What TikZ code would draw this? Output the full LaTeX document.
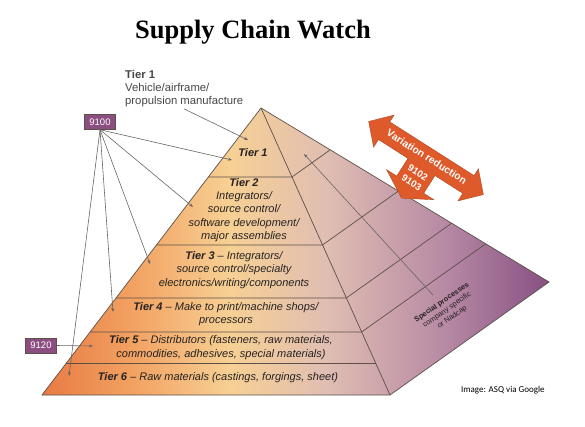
\documentclass[tikz,border=0pt]{standalone}
\usepackage{fontspec}
\setmainfont{Liberation Serif}
\setsansfont{Liberation Sans}
\newfontfamily\creditfont{Carlito}
\usetikzlibrary{arrows.meta}

\definecolor{pyrorange}{RGB}{232,122,68}
\definecolor{pyrtan}{RGB}{242,162,98}
\definecolor{pyrpeach}{RGB}{247,208,148}
\definecolor{pyrrose}{RGB}{224,190,178}
\definecolor{pyrmauve}{RGB}{182,136,164}
\definecolor{pyrpurple}{RGB}{134,80,130}
\definecolor{boxpurple}{RGB}{140,78,128}
\definecolor{arroworange}{RGB}{222,90,42}
\definecolor{edgegray}{RGB}{92,80,74}
\definecolor{leadgray}{RGB}{105,100,100}
\definecolor{tierink}{RGB}{38,34,34}
\definecolor{labelgray}{RGB}{70,70,72}

\pgfdeclarehorizontalshading{pyramidshade}{100bp}{color(0bp)=(pyrorange); color(25bp)=(pyrorange); color(34bp)=(pyrtan); color(43.5bp)=(pyrpeach); color(53bp)=(pyrrose); color(65bp)=(pyrmauve); color(75bp)=(pyrpurple); color(100bp)=(pyrpurple)}

\begin{document}
\begin{tikzpicture}[x=1pt, y=-1pt,
  tiertext/.style={font=\sffamily\itshape\fontsize{11}{13.4}\selectfont, text=tierink, align=center, inner sep=0pt},
  stdbox/.style={draw=edgegray, fill=boxpurple, text=white, font=\sffamily\fontsize{9.5}{10}\selectfont, inner sep=0pt, minimum width=31pt, minimum height=15pt},
  leader/.style={draw=leadgray, line width=0.6pt, -{Stealth[length=4pt,width=3pt]}},
  facet/.style={draw=edgegray, line width=0.7pt}]
  \useasboundingbox (0,0) rectangle (585,426);

  % Title
  \node (title) at (253,32) {\fontsize{26.5}{30}\selectfont\bfseries Supply Chain Watch};

  % Pyramid body
  \coordinate (apex) at (261,108);
  \coordinate (botleft) at (42,395);
  \coordinate (botright) at (390,395);
  \coordinate (rightcorner) at (549,282);
  \shade[shading=pyramidshade] (apex) -- (botleft) -- (botright) -- (rightcorner) -- cycle;
  \draw[facet] (apex) -- (botleft) -- (botright) -- (rightcorner) -- cycle;
  \draw[facet] (apex) -- (botright);

  % Tier borders on the front face, carried on along the side face
  \draw[facet] (208.4,177) -- (292,177) -- (330.2,149.8);
  \draw[facet] (156.5,245) -- (322.5,245) -- (398.4,191);
  \draw[facet] (116,298) -- (346.3,298) -- (451.6,223.2);
  \draw[facet] (90.1,332) -- (361.6,332) -- (485.7,243.8);
  \draw[facet] (66.4,363) -- (375.5,363);

  % Tier texts
  \node[tiertext] (tier1) at (253,153) {\textbf{Tier 1}};
  \node[tiertext] (tier2) at (244,210) {\textbf{Tier 2}\\Integrators/\\source control/\\software development/\\major assemblies};
  \node[tiertext] (tier3) at (234,270) {\textbf{Tier 3} -- Integrators/\\source control/specialty\\electronics/writing/components};
  \node[tiertext] (tier4) at (226,314) {\textbf{Tier 4} -- Make to print/machine shops/\\processors};
  \node[tiertext] (tier5) at (221,347.5) {\textbf{Tier 5} -- Distributors (fasteners, raw materials,\\commodities, adhesives, special materials)};
  \node[tiertext] (tier6) at (218,378) {\textbf{Tier 6} -- Raw materials (castings, forgings, sheet)};

  % Tier 1 note
  \node[anchor=north west, align=left, inner sep=0pt, text=labelgray, font=\sffamily\fontsize{11.3}{13}\selectfont] (tieronenote) at (125,70) {\textbf{Tier 1}\\Vehicle/airframe/\\propulsion manufacture};
  \coordinate (tieronetip) at (248,140);
  \draw[leader] (tieronenote.south) ++(0,2) -- (tieronetip);

  % Standards boxes and their leaders
  \node[stdbox] (std9100) at (100,122) {9100};
  \node[stdbox] (std9120) at (41,345.5) {9120};
  \coordinate (lead1) at (232,160);
  \coordinate (lead2) at (193,207);
  \coordinate (lead3) at (150,264);
  \coordinate (lead4) at (113,312);
  \coordinate (lead6) at (69,376);
  \coordinate (lead5) at (93,346);
  \foreach \tip in {lead1,lead2,lead3,lead4,lead6}
    \draw[leader] (std9100.south) -- (\tip);
  \draw[leader] (std9120.east) -- (lead5);

  % Variation reduction arrow
  \begin{scope}[shift={(426,158)}, rotate=-32.5]
    \fill[arroworange, draw=arroworange!80!black, line width=0.4pt]
      (-68,0) -- (-50,-19) -- (-50,-11) -- (50,-11) -- (50,-19) -- (68,0) -- (50,19) -- (50,10)
      -- (17,10) -- (17,31) -- (29,31) -- (1,47) -- (-27,31) -- (-15,31) -- (-15,10)
      -- (-50,10) -- (-50,19) -- cycle;
    \node[rotate=-32.5, text=white, font=\sffamily\bfseries\fontsize{10.2}{11}\selectfont] (varred) at (0,-1.5) {Variation reduction};
    \node[rotate=-32.5, text=white, align=center, font=\sffamily\bfseries\fontsize{9.6}{12}\selectfont] (varstds) at (1,22.5) {9102\\9103};
  \end{scope}

  % Special processes
  \node[rotate=35, align=center, text=tierink, font=\sffamily\fontsize{7.4}{9}\selectfont, inner sep=0pt] (special) at (447,310) {\textbf{Special processes}\\company specific\\or Nadcap};
  \coordinate (specialfoot) at (433,295);
  \coordinate (specialtip) at (304,154);
  \draw[leader] (specialfoot) -- (specialtip);

  % Credit
  \node[anchor=west, inner sep=0pt, font=\creditfont\fontsize{9}{10}\selectfont] (credit) at (461,390) {Image: ASQ via Google};
\end{tikzpicture}
\end{document}
